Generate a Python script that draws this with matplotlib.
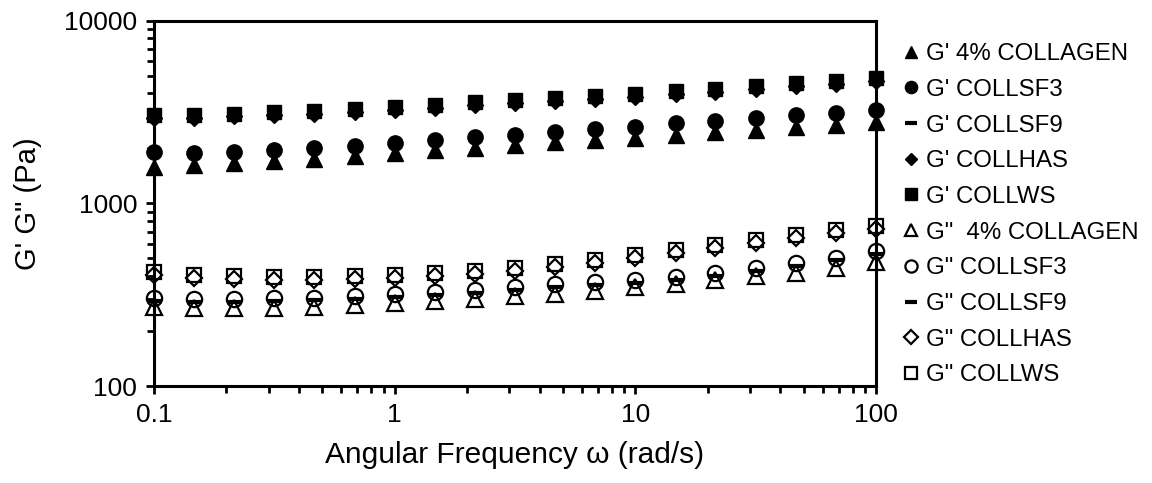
import numpy as np
import matplotlib.pyplot as plt

plt.rcParams['font.family'] = ['Liberation Sans', 'DejaVu Sans']

# angular frequency (rad/s)
omega = [0.1, 0.147, 0.215, 0.316, 0.464, 0.681, 1.0, 1.47, 2.15, 3.16,
         4.64, 6.81, 10.0, 14.7, 21.5, 31.6, 46.4, 68.1, 100.0]

# storage modulus G' (Pa)
gp_collagen = [1580, 1620, 1660, 1700, 1750, 1810, 1880, 1950, 2020, 2090,
               2160, 2210, 2280, 2370, 2450, 2530, 2620, 2700, 2800]
gp_sf3 = [1900, 1890, 1920, 1960, 2010, 2070, 2150, 2220, 2300, 2380,
          2460, 2540, 2630, 2740, 2840, 2950, 3050, 3110, 3240]
gp_sf9 = [1860, 1850, 1880, 1920, 1970, 2030, 2110, 2180, 2260, 2340,
          2420, 2500, 2590, 2700, 2800, 2900, 3000, 3060, 3190]
gp_has = [2920, 2950, 2990, 3030, 3090, 3160, 3250, 3340, 3440, 3550,
          3620, 3720, 3830, 3950, 4080, 4230, 4380, 4530, 4700]
gp_ws = [3030, 3060, 3100, 3150, 3210, 3280, 3370, 3470, 3570, 3680,
         3760, 3860, 3970, 4100, 4230, 4390, 4550, 4700, 4880]

# loss modulus G'' (Pa)
gpp_collagen = [272, 267, 267, 268, 270, 276, 284, 292, 300, 310,
                320, 333, 347, 362, 380, 398, 418, 442, 480]
gpp_sf3 = [303, 299, 300, 302, 305, 310, 318, 326, 336, 348,
           360, 372, 381, 395, 415, 440, 470, 505, 548]
gpp_sf9 = [292, 288, 289, 291, 294, 299, 306, 314, 324, 335,
           347, 358, 367, 381, 400, 424, 453, 487, 528]
gpp_has = [407, 390, 383, 380, 380, 383, 390, 399, 412, 428,
           448, 472, 500, 534, 568, 606, 645, 688, 727]
gpp_ws = [423, 405, 398, 395, 395, 398, 405, 414, 428, 445,
          465, 490, 520, 555, 590, 630, 670, 715, 755]

labels = ["G' 4% COLLAGEN", "G' COLLSF3", "G' COLLSF9", "G' COLLHAS", "G' COLLWS",
          'G"  4% COLLAGEN', 'G" COLLSF3', 'G" COLLSF9', 'G" COLLHAS', 'G" COLLWS']
series = [gp_collagen, gp_sf3, gp_sf9, gp_has, gp_ws,
          gpp_collagen, gpp_sf3, gpp_sf9, gpp_has, gpp_ws]
markers = ['^', 'o', '_', 'D', 's', '^', 'o', '_', 'D', 's']
sizes = [11, 11, 10, 8, 10.5, 11, 11, 10, 8.5, 10.5]

fig = plt.figure(figsize=(11.52, 4.83), dpi=100)
ax = fig.add_axes([0.1337, 0.2008, 0.6267, 0.7563])

for i in range(len(series)):
    filled = i < 5
    ax.plot(omega, series[i], linestyle='none', marker=markers[i], markersize=sizes[i],
            markerfacecolor='black' if filled else 'none', markeredgecolor='black',
            markeredgewidth=3 if markers[i] == '_' else (1.6 if not filled else 1),
            label=labels[i], clip_on=False, zorder=3)

ax.set_xscale('log')
ax.set_yscale('log')
ax.set_xlim(0.1, 100)
ax.set_ylim(100, 10000)
ax.set_xticks([0.1, 1, 10, 100])
ax.set_xticklabels(['0.1', '1', '10', '100'])
ax.set_yticks([100, 1000, 10000])
ax.set_yticklabels(['100', '1000', '10000'])

for s in ax.spines.values():
    s.set_linewidth(2.2)
ax.tick_params(which='major', direction='out', length=6, width=2, labelsize=19, pad=6)
ax.tick_params(which='minor', direction='out', length=5, width=2)
ax.tick_params(axis='x', which='both', top=False)
ax.tick_params(axis='y', which='both', right=False)

ax.set_xlabel('Angular Frequency \u03c9 (rad/s)', fontsize=21.5, labelpad=10)
ax.set_ylabel('G\' G" (Pa)', fontsize=21, labelpad=16)

ax.legend(loc='upper left', bbox_to_anchor=(1.025, 0.965), frameon=False, fontsize=17.3,
          handlelength=0.6, handletextpad=0.35, labelspacing=0.57, markerscale=0.8,
          borderaxespad=0)

fig.savefig('out.png', dpi=100)
